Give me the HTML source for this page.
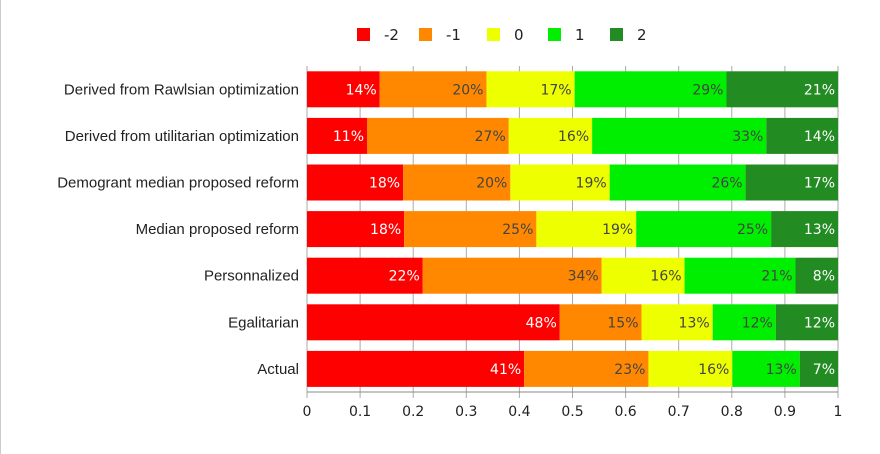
<!DOCTYPE html>
<html><head><meta charset="utf-8"><style>
body{margin:0;background:#fff;}
svg{display:block;font-family:"DejaVu Sans","Liberation Sans",sans-serif;}
</style></head><body>
<svg id="c" width="880" height="454">
<line x1="0.5" y1="0" x2="0.5" y2="454" stroke="#ccc"/>
<g id="grid"></g><g id="bars"></g><g id="axis"></g><g id="legend"></g>
</svg>
<script>
const categories=["Derived from Rawlsian optimization","Derived from utilitarian optimization","Demogrant median proposed reform","Median proposed reform","Personnalized","Egalitarian","Actual"];
const seriesNames=["-2","-1","0","1","2"];
const sM2=[0.137,0.113,0.181,0.183,0.218,0.476,0.409];
const sM1=[0.201,0.267,0.202,0.249,0.337,0.154,0.234];
const s0=[0.166,0.157,0.187,0.188,0.156,0.134,0.158];
const s1=[0.286,0.328,0.256,0.254,0.209,0.119,0.127];
const s2=[0.210,0.135,0.174,0.126,0.080,0.117,0.072];
const ticks=[0,0.1,0.2,0.3,0.4,0.5,0.6,0.7,0.8,0.9,1];
const colors=["#ff0000","#ff8800","#eeff00","#00ee00","#228b22"];
const textCol=["#fff","#444","#444","#444","#fff"];
const series=[sM2,sM1,s0,s1,s2];
const NS="http://www.w3.org/2000/svg";
const x0=307,x1=838,plotTop=66,rowH=46.6,barH=36;
const X=v=>x0+v*(x1-x0);
const Y=i=>plotTop+i*rowH;
function mk(t,a,p){const e=document.createElementNS(NS,t);for(const k in a)e.setAttribute(k,a[k]);p.appendChild(e);return e;}
const grid=document.getElementById('grid'),bars=document.getElementById('bars'),axis=document.getElementById('axis'),leg=document.getElementById('legend');
ticks.forEach(t=>{
 const l=mk('line',{x1:X(t),x2:X(t),y1:plotTop,y2:398,stroke:'#aaa'},grid);
 
 
 const tx=mk('text',{x:X(t),y:416,'text-anchor':'middle','font-size':14,fill:'#222'},axis);
 tx.textContent=String(t);
 
 
});
const ax=mk('line',{x1:x0,x2:x1,y1:392,y2:392,stroke:'#888'},axis);


categories.forEach((c,i)=>{
 const y=Y(i)+(rowH-barH)/2;
 const lab=mk('text',{x:299,y:y+barH/2+5,'text-anchor':'end','font-size':15,fill:'#222','font-family':'Liberation Sans, sans-serif'},axis);
 lab.textContent=c;
 
 
 let acc=0;
 series.forEach((s,j)=>{
  const v=s[i];
  const r=mk('rect',{x:X(acc),y:y,width:X(acc+v)-X(acc),height:barH,fill:colors[j]},bars);
  
  
  acc+=v;
  const t=mk('text',{x:X(acc)-3,y:y+barH/2+5,'text-anchor':'end','font-size':14,fill:textCol[j]},bars);
  t.textContent=Math.round(v*100)+'%';
  
  
 });
});
const lx=[357,419,487,548,610];
seriesNames.forEach((n,j)=>{
 const g=mk('g',{},leg);
 
 
 mk('rect',{x:lx[j],y:28,width:13,height:13,fill:colors[j]},g);
 const t=mk('text',{x:lx[j]+27,y:40,'font-size':15,fill:'#222'},g);
 t.textContent=n;
});
</script>
</body></html>
